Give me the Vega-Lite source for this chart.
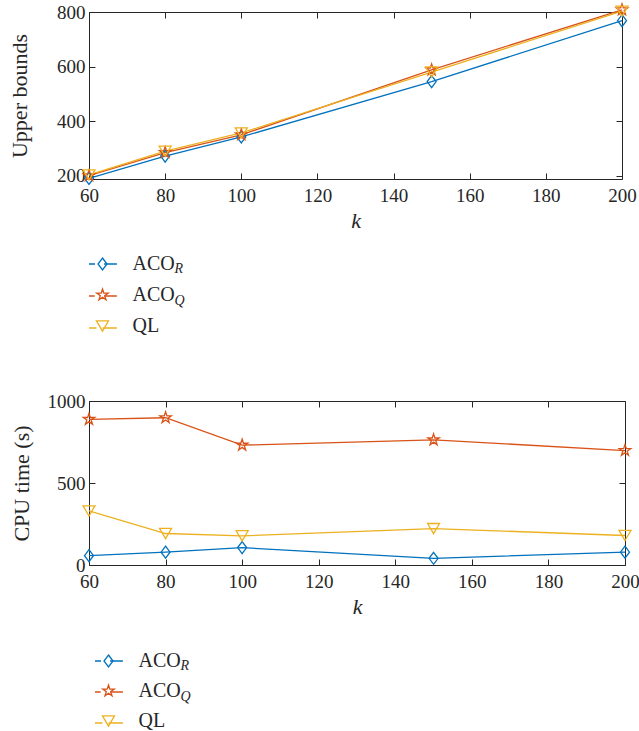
{
  "$schema": "https://vega.github.io/schema/vega-lite/v6.json",
  "padding": {"left": 8, "top": 1, "right": 15, "bottom": 5},
  "spacing": 52,
  "datasets": {
    "upper": [
      {"series": "ACO_R", "sub": "R", "k": 60, "value": 190},
      {"series": "ACO_R", "sub": "R", "k": 80, "value": 272},
      {"series": "ACO_R", "sub": "R", "k": 100, "value": 342},
      {"series": "ACO_R", "sub": "R", "k": 150, "value": 545},
      {"series": "ACO_R", "sub": "R", "k": 200, "value": 768},
      {"series": "ACO_Q", "sub": "Q", "k": 60, "value": 200},
      {"series": "ACO_Q", "sub": "Q", "k": 80, "value": 285},
      {"series": "ACO_Q", "sub": "Q", "k": 100, "value": 350},
      {"series": "ACO_Q", "sub": "Q", "k": 150, "value": 588},
      {"series": "ACO_Q", "sub": "Q", "k": 200, "value": 808},
      {"series": "QL", "sub": "", "k": 60, "value": 203},
      {"series": "QL", "sub": "", "k": 80, "value": 290},
      {"series": "QL", "sub": "", "k": 100, "value": 357},
      {"series": "QL", "sub": "", "k": 150, "value": 580},
      {"series": "QL", "sub": "", "k": 200, "value": 803}
    ],
    "cpu": [
      {"series": "ACO_R", "sub": "R", "k": 60, "value": 57},
      {"series": "ACO_R", "sub": "R", "k": 80, "value": 78},
      {"series": "ACO_R", "sub": "R", "k": 100, "value": 106},
      {"series": "ACO_R", "sub": "R", "k": 150, "value": 41},
      {"series": "ACO_R", "sub": "R", "k": 200, "value": 78},
      {"series": "ACO_Q", "sub": "Q", "k": 60, "value": 888},
      {"series": "ACO_Q", "sub": "Q", "k": 80, "value": 898},
      {"series": "ACO_Q", "sub": "Q", "k": 100, "value": 731},
      {"series": "ACO_Q", "sub": "Q", "k": 150, "value": 763},
      {"series": "ACO_Q", "sub": "Q", "k": 200, "value": 698},
      {"series": "QL", "sub": "", "k": 60, "value": 330},
      {"series": "QL", "sub": "", "k": 80, "value": 192},
      {"series": "QL", "sub": "", "k": 100, "value": 178},
      {"series": "QL", "sub": "", "k": 150, "value": 222},
      {"series": "QL", "sub": "", "k": 200, "value": 180}
    ]
  },
  "resolve": {"scale": {"color": "independent", "shape": "independent", "size": "independent"}},
  "vconcat": [
    {
      "width": 533,
      "height": 167,
      "data": {"name": "upper"},
      "layer": [
        {
          "mark": {"type": "line", "strokeWidth": 1.3},
          "encoding": {
            "x": {"field": "k", "type": "quantitative", "scale": {"domain": [60, 200], "nice": false, "zero": false},
                  "axis": {"orient": "bottom", "values": [60, 80, 100, 120, 140, 160, 180, 200], "title": "k", "titleFontStyle": "italic", "labelPadding": 13, "titlePadding": 5}},
            "y": {"field": "value", "type": "quantitative", "scale": {"domain": [188, 800], "nice": false, "zero": false},
                  "axis": {"orient": "left", "values": [200, 400, 600, 800], "format": "d", "title": "Upper bounds", "titlePadding": 25, "labelPadding": 10}},
            "color": {"field": "series", "type": "nominal", "scale": {"domain": ["ACO_R", "ACO_Q", "QL"], "range": ["#0072BD", "#D95319", "#EDB120"]},
                      "legend": {"orient": "none", "legendX": 0, "legendY": 241, "title": null, "padding": 0, "clipHeight": 22, "rowPadding": 9, "symbolSize": 144, "symbolStrokeWidth": 1.3, "symbolOffset": 3.5, "labelOffset": 20, "labelFontSize": 20, "labelFont": "Liberation Serif", "labelColor": "#262626", "labelExpr": "datum.value === 'QL' ? 'QL' : 'ACO'",
                                 "encoding": {"symbols": {"fill": {"value": "transparent"}, "opacity": {"value": 1}}}}}
          }
        },
        {
          "mark": {"type": "point", "filled": false, "strokeWidth": 1.3, "opacity": 1},
          "encoding": {
            "x": {"field": "k", "type": "quantitative", "scale": {"domain": [60, 200], "nice": false, "zero": false},
                  "axis": {"orient": "top", "values": [60, 80, 100, 120, 140, 160, 180, 200], "labels": false, "title": null}},
            "y": {"field": "value", "type": "quantitative", "scale": {"domain": [188, 800], "nice": false, "zero": false},
                  "axis": {"orient": "right", "values": [200, 400, 600, 800], "labels": false, "title": null}},
            "color": {"field": "series", "type": "nominal", "scale": {"domain": ["ACO_R", "ACO_Q", "QL"], "range": ["#0072BD", "#D95319", "#EDB120"]},
                      "legend": {"orient": "none", "legendX": 0, "legendY": 241, "title": null, "padding": 0, "clipHeight": 22, "rowPadding": 9, "symbolSize": 144, "symbolStrokeWidth": 1.3, "symbolOffset": 3.5, "labelOffset": 20, "labelFontSize": 20, "labelFont": "Liberation Serif", "labelColor": "#262626", "labelExpr": "datum.value === 'QL' ? 'QL' : 'ACO'",
                                 "encoding": {"symbols": {"fill": {"value": "transparent"}, "opacity": {"value": 1}}}}},
            "shape": {"field": "series", "type": "nominal", "scale": {"domain": ["ACO_R", "ACO_Q", "QL"], "range": ["M0,-1L0.75,0L0,1L-0.75,0Z", "M0,-1L0.225,-0.309L0.951,-0.309L0.363,0.118L0.588,0.809L0,0.382L-0.588,0.809L-0.363,0.118L-0.951,-0.309L-0.225,-0.309Z", "M-1,-0.85H1L0,0.85Z"]}, "legend": null},
            "size": {"field": "sub", "type": "nominal", "scale": {"domain": ["R", "Q", ""], "range": [144, 144]},
                     "legend": {"orient": "none", "legendX": 0, "legendY": 241, "title": null, "padding": 0, "clipHeight": 22, "rowPadding": 9, "symbolOffset": 3.5, "symbolStrokeWidth": 1.3, "labelOffset": 68, "labelFontSize": 14, "labelFontStyle": "italic", "labelFont": "Liberation Serif", "labelColor": "#262626",
                                "encoding": {"labels": {"dy": {"value": 5}},
                                             "symbols": {"shape": {"value": {"expr": "datum.value === 'R' ? 'M-2.9,0H-0.75M0.75,0H2.9' : datum.value === 'Q' ? 'M-2.9,0H-0.8M0.8,0H2.9' : 'M-2.9,0H-0.5M0.5,0H2.9'"}},
                                                         "stroke": {"value": {"expr": "datum.value === 'R' ? '#0072BD' : datum.value === 'Q' ? '#D95319' : '#EDB120'"}},
                                                         "fill": {"value": "transparent"}, "opacity": {"value": 1}, "strokeWidth": {"value": 1.3}}}}}
          }
        }
      ],
      "resolve": {"axis": {"x": "independent", "y": "independent"}}
    },
    {
      "width": 536,
      "height": 164,
      "data": {"name": "cpu"},
      "layer": [
        {
          "mark": {"type": "line", "strokeWidth": 1.3},
          "encoding": {
            "x": {"field": "k", "type": "quantitative", "scale": {"domain": [60, 200], "nice": false, "zero": false},
                  "axis": {"orient": "bottom", "values": [60, 80, 100, 120, 140, 160, 180, 200], "title": "k", "titleFontStyle": "italic", "labelPadding": 13, "titlePadding": 5}},
            "y": {"field": "value", "type": "quantitative", "scale": {"domain": [0, 1000], "nice": false, "zero": false},
                  "axis": {"orient": "left", "values": [0, 500, 1000], "format": "d", "title": "CPU time (s)", "titlePadding": 14, "labelPadding": 10}},
            "color": {"field": "series", "type": "nominal", "scale": {"domain": ["ACO_R", "ACO_Q", "QL"], "range": ["#0072BD", "#D95319", "#EDB120"]},
                      "legend": {"orient": "none", "legendX": 6, "legendY": 249, "title": null, "padding": 0, "clipHeight": 22, "rowPadding": 8, "symbolSize": 144, "symbolStrokeWidth": 1.3, "symbolOffset": 3.5, "labelOffset": 20, "labelFontSize": 20, "labelFont": "Liberation Serif", "labelColor": "#262626", "labelExpr": "datum.value === 'QL' ? 'QL' : 'ACO'",
                                 "encoding": {"symbols": {"fill": {"value": "transparent"}, "opacity": {"value": 1}}}}}
          }
        },
        {
          "mark": {"type": "point", "filled": false, "strokeWidth": 1.3, "opacity": 1},
          "encoding": {
            "x": {"field": "k", "type": "quantitative", "scale": {"domain": [60, 200], "nice": false, "zero": false},
                  "axis": {"orient": "top", "values": [60, 80, 100, 120, 140, 160, 180, 200], "labels": false, "title": null}},
            "y": {"field": "value", "type": "quantitative", "scale": {"domain": [0, 1000], "nice": false, "zero": false},
                  "axis": {"orient": "right", "values": [0, 500, 1000], "labels": false, "title": null}},
            "color": {"field": "series", "type": "nominal", "scale": {"domain": ["ACO_R", "ACO_Q", "QL"], "range": ["#0072BD", "#D95319", "#EDB120"]},
                      "legend": {"orient": "none", "legendX": 6, "legendY": 249, "title": null, "padding": 0, "clipHeight": 22, "rowPadding": 8, "symbolSize": 144, "symbolStrokeWidth": 1.3, "symbolOffset": 3.5, "labelOffset": 20, "labelFontSize": 20, "labelFont": "Liberation Serif", "labelColor": "#262626", "labelExpr": "datum.value === 'QL' ? 'QL' : 'ACO'",
                                 "encoding": {"symbols": {"fill": {"value": "transparent"}, "opacity": {"value": 1}}}}},
            "shape": {"field": "series", "type": "nominal", "scale": {"domain": ["ACO_R", "ACO_Q", "QL"], "range": ["M0,-1L0.75,0L0,1L-0.75,0Z", "M0,-1L0.225,-0.309L0.951,-0.309L0.363,0.118L0.588,0.809L0,0.382L-0.588,0.809L-0.363,0.118L-0.951,-0.309L-0.225,-0.309Z", "M-1,-0.85H1L0,0.85Z"]}, "legend": null},
            "size": {"field": "sub", "type": "nominal", "scale": {"domain": ["R", "Q", ""], "range": [144, 144]},
                     "legend": {"orient": "none", "legendX": 6, "legendY": 249, "title": null, "padding": 0, "clipHeight": 22, "rowPadding": 8, "symbolOffset": 3.5, "symbolStrokeWidth": 1.3, "labelOffset": 68, "labelFontSize": 14, "labelFontStyle": "italic", "labelFont": "Liberation Serif", "labelColor": "#262626",
                                "encoding": {"labels": {"dy": {"value": 5}},
                                             "symbols": {"shape": {"value": {"expr": "datum.value === 'R' ? 'M-2.9,0H-0.75M0.75,0H2.9' : datum.value === 'Q' ? 'M-2.9,0H-0.8M0.8,0H2.9' : 'M-2.9,0H-0.5M0.5,0H2.9'"}},
                                                         "stroke": {"value": {"expr": "datum.value === 'R' ? '#0072BD' : datum.value === 'Q' ? '#D95319' : '#EDB120'"}},
                                                         "fill": {"value": "transparent"}, "opacity": {"value": 1}, "strokeWidth": {"value": 1.3}}}}}
          }
        }
      ],
      "resolve": {"axis": {"x": "independent", "y": "independent"}}
    }
  ],
  "config": {
    "view": {"stroke": null},
    "font": "Liberation Serif",
    "axis": {"labelFont": "Liberation Serif", "titleFont": "Liberation Serif", "labelFontSize": 19, "titleFontSize": 22, "titleFontWeight": "normal", "labelColor": "#262626", "titleColor": "#262626", "domainColor": "#262626", "tickColor": "#262626", "grid": false, "tickSize": -6, "domainWidth": 1, "tickWidth": 1, "labelFlush": false, "labelOverlap": false}
  }
}
